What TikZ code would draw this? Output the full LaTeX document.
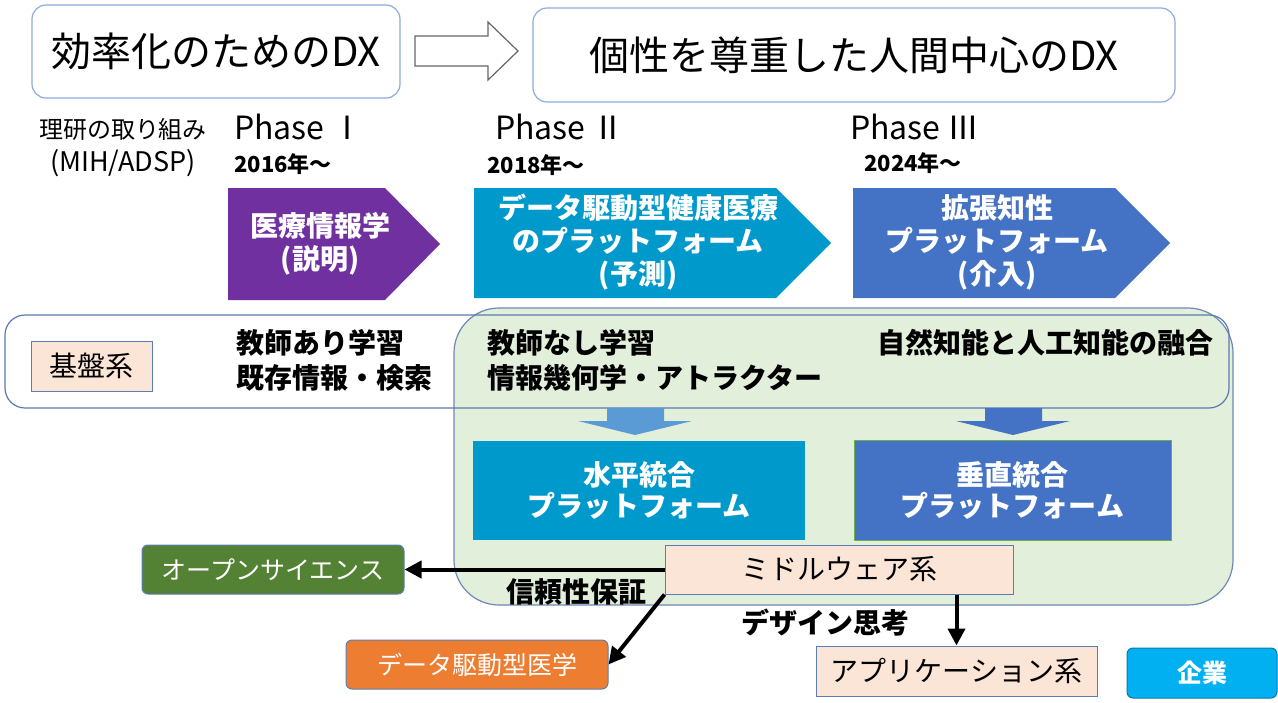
\documentclass[tikz,border=0pt]{standalone}
\usepackage{fontspec}
\setmainfont{Noto Sans CJK JP}
\usetikzlibrary{arrows.meta}
\definecolor{dxborder}{HTML}{8FAADC}
\definecolor{rowborder}{HTML}{5A79B0}
\definecolor{greenfill}{HTML}{E2EFDA}
\definecolor{greenborder}{HTML}{6F88B8}
\definecolor{peach}{HTML}{FBE5D6}
\definecolor{peachborder}{HTML}{5B7DB5}
\definecolor{tealc}{HTML}{0099CC}
\definecolor{bluec}{HTML}{4472C4}
\definecolor{purplec}{HTML}{7030A0}
\definecolor{lightarrow}{HTML}{5B9BD5}
\definecolor{osgreen}{HTML}{548235}
\definecolor{orangec}{HTML}{ED7D31}
\definecolor{cyanc}{HTML}{00B0F0}
\definecolor{vborder}{HTML}{70AD47}
\newcommand\myfs[2]{\fontsize{#1}{#2}\selectfont}
\begin{document}
\begin{tikzpicture}[x=1pt,y=-1pt,
  dxbox/.style={draw=dxborder,line width=1.2pt,rounded corners=14pt,fill=white,font=\myfs{40}{48}},
  lbl/.style={inner sep=0pt},
  phase/.style={inner sep=0pt,font=\myfs{32}{36}},
  year/.style={inner sep=0pt,font=\bfseries\myfs{22}{26}},
  chevtext/.style={inner sep=0pt,text=white,align=center,font=\bfseries\myfs{28}{33}},
  rowtext/.style={inner sep=0pt,anchor=west,font=\bfseries\myfs{28}{32}},
  platbox/.style={text=white,align=center,font=\bfseries\myfs{28}{31}},
  peachbox/.style={fill=peach,draw=peachborder,line width=1pt,font=\myfs{28}{30}},
  colbox/.style={rounded corners=6pt,draw=peachborder,line width=1pt,text=white,font=\myfs{25}{30}},
  conn/.style={line width=4pt,-{Triangle[length=17pt,width=17pt]}},
  bold/.style={inner sep=0pt,font=\bfseries\myfs{28}{32}}
]
\useasboundingbox (0,0) rectangle (1278,702);

% top DX boxes
\node[dxbox,minimum width=368pt,minimum height=93pt] (dx1) at (216,51.5) {効率化のためのDX};
\node[dxbox,minimum width=642pt,minimum height=94pt] (dx2) at (854,55) {個性を尊重した人間中心のDX};
\draw[line width=1.2pt,draw=black!60,fill=white] (415,36) -- (488,36) -- (488,22) -- (518,51) -- (488,80) -- (488,66) -- (415,66) -- cycle;

% labels
\node[lbl,font=\myfs{24}{28}] (riken) at (123,129) {理研の取り組み};
\node[lbl,font=\myfs{27}{30}] (mih) at (123,163) {(MIH/ADSP)};
\node[phase] (ph1) at (299,127) {Phase Ⅰ};
\node[phase] (ph2) at (560,127) {Phase Ⅱ};
\node[phase] (ph3) at (915,127) {Phase Ⅲ};
\node[year] (y1) at (283,164) {2016年～};
\node[year] (y2) at (536,165) {2018年～};
\node[year] (y3) at (913,163) {2024年～};

% chevrons
\fill[purplec] (228,188) -- (385,188) -- (440,244) -- (385,300) -- (228,300) -- cycle;
\fill[tealc] (474,188) -- (776,188) -- (831,243) -- (776,298) -- (474,298) -- cycle;
\fill[bluec] (853,188) -- (1115,188) -- (1170,243) -- (1115,298) -- (853,298) -- cycle;
\node[chevtext] (c1) at (320,244) {医療情報学\\(説明)};
\node[chevtext] (c2) at (638,242) {データ駆動型健康医療\\のプラットフォーム\\(予測)};
\node[chevtext] (c3) at (997,242) {拡張知性\\プラットフォーム\\(介入)};

% green region and foundation row
\draw[fill=greenfill,draw=greenborder,line width=1.2pt,rounded corners=45pt] (454,308) rectangle (1233,605);
\draw[draw=rowborder,line width=1.2pt,rounded corners=20pt] (5,315) rectangle (1229,408);
\node[peachbox,minimum width=121pt,minimum height=50pt] (kiban) at (91.5,366) {基盤系};
\node[rowtext] (t1a) at (236,343) {教師あり学習};
\node[rowtext] (t1b) at (236,378) {既存情報・検索};
\node[rowtext] (t2a) at (487,343) {教師なし学習};
\node[rowtext] (t2b) at (487,378) {情報幾何学・アトラクター};
\node[rowtext] (t3a) at (877,343) {自然知能と人工知能の融合};

% block arrows down
\fill[lightarrow] (607,408) -- (664,408) -- (664,421) -- (692,421) -- (635,435) -- (578,421) -- (607,421) -- cycle;
\fill[bluec] (985,408) -- (1042,408) -- (1042,421) -- (1070,421) -- (1013,435) -- (956,421) -- (985,421) -- cycle;

% platforms
\node[platbox,fill=tealc,minimum width=332pt,minimum height=99pt] (hplat) at (639,490.5) {水平統合\\プラットフォーム};
\node[platbox,fill=bluec,draw=vborder,line width=1pt,minimum width=317pt,minimum height=100pt] (vplat) at (1012.5,490) {垂直統合\\プラットフォーム};

% bottom boxes
\node[peachbox,minimum width=348pt,minimum height=49pt] (mw) at (839,569.5) {ミドルウェア系};
\node[colbox,fill=osgreen,minimum width=262pt,minimum height=49pt] (os) at (273,569.5) {オープンサイエンス};
\node[colbox,fill=orangec,minimum width=262pt,minimum height=49pt] (ddm) at (477,664.5) {データ駆動型医学};
\node[peachbox,minimum width=281pt,minimum height=50pt] (app) at (956.5,671) {アプリケーション系};
\node[colbox,fill=cyanc,draw=cyanc!70!black,font=\bfseries\myfs{25}{30},minimum width=150pt,minimum height=50pt] (kigyo) at (1202,673) {企業};

\node[bold] (shinrai) at (576,592) {信頼性保証};
\node[bold] (design) at (825,623) {デザイン思考};

% connectors
\draw[conn] (mw.west) -- (os.east);
\draw[conn] (mw.south west) -- (ddm.east);
\draw[conn] (mw.south -| app.north) -- (app.north);
\end{tikzpicture}
\end{document}
